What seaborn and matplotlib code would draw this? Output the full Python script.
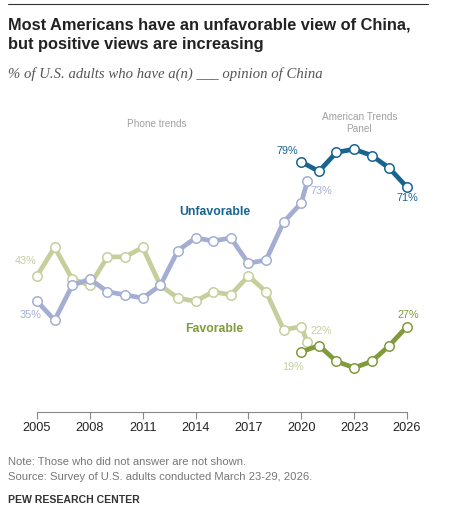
import pandas as pd
import numpy as np
import matplotlib
matplotlib.use('Agg')
import matplotlib.pyplot as plt
import seaborn as sns

# 전화 조사 (Phone trends)
phone_years = [2005, 2006, 2007, 2008, 2009, 2010, 2011, 2012, 2013, 2014,
               2015, 2016, 2017, 2018, 2019, 2020, 2020.35]
phone_unfav = [35, 29, 40, 42, 38, 37, 36, 40, 51, 55, 54, 55, 47, 48, 60, 66, 73]
phone_fav = [43, 52, 42, 40, 49, 49, 52, 40, 36, 35, 38, 37, 43, 38, 26, 27, 22]

# American Trends Panel
atp_years = [2020, 2021, 2022, 2023, 2024, 2025, 2026]
atp_unfav = [79, 76, 82, 83, 81, 77, 71]
atp_fav = [19, 21, 16, 14, 16, 21, 27]

tick_years = [2005, 2008, 2011, 2014, 2017, 2020, 2023, 2026]

c_unfav_phone = '#a4aed2'
c_unfav_atp = '#17648f'
c_fav_phone = '#c6cf9c'
c_fav_atp = '#809a3c'

sns.set_style('white')
plt.rcParams['font.family'] = ['Liberation Sans', 'DejaVu Sans']

fig = plt.figure(figsize=(4.49, 5.05), dpi=100)
ax = fig.add_axes([0.0432, 0.184, 0.922, 0.5645])

df_phone = pd.DataFrame({'year': phone_years, 'unfav': phone_unfav, 'fav': phone_fav})
df_atp = pd.DataFrame({'year': atp_years, 'unfav': atp_unfav, 'fav': atp_fav})

mk = dict(marker='o', markersize=6.8, markerfacecolor='white', markeredgewidth=1.1,
          linewidth=3.4, solid_joinstyle='round')
sns.lineplot(data=df_phone, x='year', y='fav', color=c_fav_phone, markeredgecolor=c_fav_phone, ax=ax, **mk)
sns.lineplot(data=df_phone, x='year', y='unfav', color=c_unfav_phone, markeredgecolor=c_unfav_phone, ax=ax, **mk)
sns.lineplot(data=df_atp, x='year', y='fav', color=c_fav_atp, markeredgecolor=c_fav_atp, ax=ax, **mk)
sns.lineplot(data=df_atp, x='year', y='unfav', color=c_unfav_atp, markeredgecolor=c_unfav_atp, ax=ax, **mk)

ax.set_xlim(2004, 2027.5)
ax.set_ylim(0, 90)
ax.set_xlabel('')
ax.set_ylabel('')
ax.set_yticks([])
ax.set_xticks(tick_years)
ax.set_xticklabels([str(y) for y in tick_years], fontsize=9.2, color='#222222')
ax.tick_params(axis='x', bottom=True, direction='out', length=5, width=0.8, color='#888888', pad=2)
for s in ['top', 'right', 'left']:
    ax.spines[s].set_visible(False)
ax.spines['bottom'].set_color('#888888')
ax.spines['bottom'].set_linewidth(0.8)
ax.spines['bottom'].set_bounds(2005, 2026)

# 데이터 레이블
lbl = dict(fontsize=7.8, ha='center', va='center')
ax.annotate(f'{phone_fav[0]}%', (phone_years[0], phone_fav[0]), xytext=(-8, 11), textcoords='offset points', color=c_fav_phone, **lbl)
ax.annotate(f'{phone_unfav[0]}%', (phone_years[0], phone_unfav[0]), xytext=(-5, -10), textcoords='offset points', color=c_unfav_phone, **lbl)
ax.annotate(f'{phone_unfav[-1]}%', (phone_years[-1], phone_unfav[-1]), xytext=(10, -7), textcoords='offset points', color=c_unfav_phone, **lbl)
ax.annotate(f'{phone_fav[-1]}%', (phone_years[-1], phone_fav[-1]), xytext=(10, 8), textcoords='offset points', color=c_fav_phone, **lbl)
ax.annotate(f'{atp_unfav[0]}%', (atp_years[0], atp_unfav[0]), xytext=(-10, 8), textcoords='offset points', color=c_unfav_atp, **lbl)
ax.annotate(f'{atp_unfav[-1]}%', (atp_years[-1], atp_unfav[-1]), xytext=(0, -8), textcoords='offset points', color=c_unfav_atp, **lbl)
ax.annotate(f'{atp_fav[0]}%', (atp_years[0], atp_fav[0]), xytext=(-6, -11), textcoords='offset points', color=c_fav_phone, **lbl)
ax.annotate(f'{atp_fav[-1]}%', (atp_years[-1], atp_fav[-1]), xytext=(1, 8), textcoords='offset points', color=c_fav_atp, **lbl)

ax.text(2015.1, 63.1, 'Unfavorable', fontsize=8.8, fontweight='bold', color=c_unfav_atp, ha='center', va='center')
ax.text(2015.05, 26.2, 'Favorable', fontsize=8.8, fontweight='bold', color=c_fav_atp, ha='center', va='center')
ax.text(2011.8, 91, 'Phone trends', fontsize=7.2, color='#a0a0a0', ha='center', va='center')
ax.text(2023.3, 91.3, 'American Trends\nPanel', fontsize=7.2, color='#a0a0a0', ha='center', va='center', linespacing=1.25)

# 제목 및 주석
fig.add_artist(plt.Line2D([8 / 449, 428 / 449], [1 - 4 / 505, 1 - 4 / 505], color='#333333', linewidth=0.8))
fig.text(8 / 449, 1 - 25 / 505, 'Most Americans have an unfavorable view of China,', fontsize=11.8,
         fontweight='bold', color='#222222', va='center', ha='left')
fig.text(8 / 449, 1 - 44 / 505, 'but positive views are increasing', fontsize=11.8,
         fontweight='bold', color='#222222', va='center', ha='left')
fig.text(8 / 449, 1 - 74 / 505, '% of U.S. adults who have a(n) ___ opinion of China', fontsize=10.6,
         fontstyle='italic', family=['Liberation Serif', 'DejaVu Serif'], color='#555555', va='center', ha='left')
fig.text(8 / 449, 1 - 462 / 505, 'Note: Those who did not answer are not shown.', fontsize=8.1,
         color='#777777', va='center', ha='left')
fig.text(8 / 449, 1 - 477 / 505, 'Source: Survey of U.S. adults conducted March 23-29, 2026.', fontsize=8.1,
         color='#777777', va='center', ha='left')
fig.text(8 / 449, 1 - 500 / 505, 'PEW RESEARCH CENTER', fontsize=7.6, fontweight='bold',
         color='#333333', va='center', ha='left')

fig.savefig('out.png', dpi=100)
